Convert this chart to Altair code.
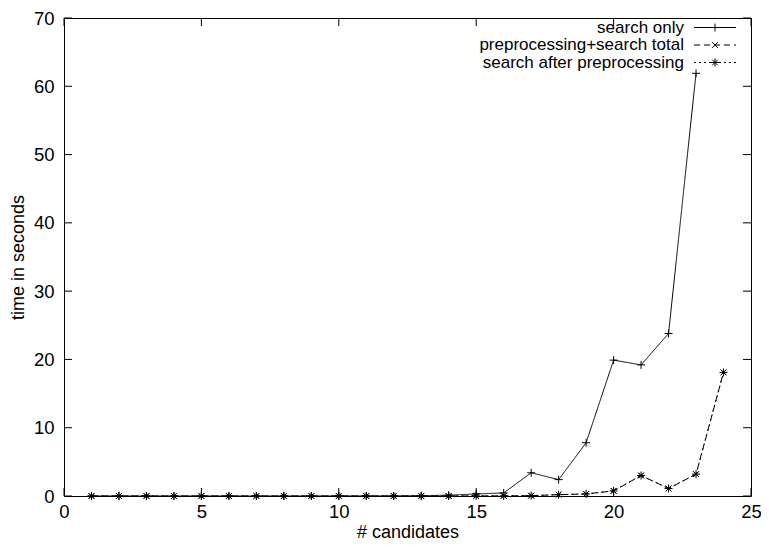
import altair as alt
import pandas as pd

# ---- data ----
n_search = list(range(1, 24))
search_only = [0.0, 0.0, 0.0, 0.0, 0.0, 0.0, 0.0, 0.0, 0.0, 0.01, 0.01, 0.02,
               0.05, 0.12, 0.3, 0.45, 3.4, 2.4, 7.8, 19.9, 19.2, 23.8, 61.9]
n_prep = list(range(1, 25))
prep_total = [0.0, 0.0, 0.0, 0.0, 0.0, 0.0, 0.0, 0.0, 0.0, 0.0, 0.0, 0.0,
              0.0, 0.0, 0.01, 0.02, 0.05, 0.2, 0.3, 0.75, 3.0, 1.1, 3.2, 18.1]
after_prep = [0.0, 0.0, 0.0, 0.0, 0.0, 0.0, 0.0, 0.0, 0.0, 0.0, 0.0, 0.0,
              0.0, 0.0, 0.01, 0.02, 0.05, 0.2, 0.3, 0.75, 3.0, 1.1, 3.2, 18.1]
series_names = ["search only", "preprocessing+search total", "search after preprocessing"]
x_ticks = [0, 5, 10, 15, 20, 25]
y_ticks = [0, 10, 20, 30, 40, 50, 60, 70]

# ---- layout / style ----
W, H = 687, 478
PAD = {"left": 56, "top": 10, "right": 10, "bottom": 44}
FONT = "Liberation Sans"
PLUS = "M-1,0L1,0M0,-1L0,1"
CROSS = "M-0.7,-0.7L0.7,0.7M-0.7,0.7L0.7,-0.7"
STAR = PLUS + CROSS
styles = [
    dict(dash=[1, 0], shape=PLUS, size=64),
    dict(dash=[6, 4], shape=CROSS, size=64),
    dict(dash=[2, 3], shape=STAR, size=64),
]

xs = alt.Scale(domain=[0, 25], nice=False, zero=False)
ys = alt.Scale(domain=[0, 70], nice=False, zero=False)
x_axis = alt.Axis(values=x_ticks, title="# candidates", domain=False, ticks=False,
                  grid=False, labelFlush=False, labelOverlap=False, labelPadding=6,
                  titleY=41, titleBaseline="alphabetic",
                  labelFont=FONT, titleFont=FONT, labelFontSize=18.5,
                  titleFontSize=18, titleFontWeight="normal", labelColor="black",
                  titleColor="black")
y_axis = alt.Axis(values=y_ticks, title="time in seconds", domain=False, ticks=False,
                  grid=False, labelFlush=False, labelOverlap=False, labelPadding=10,
                  titlePadding=6, labelFont=FONT, titleFont=FONT, labelFontSize=18.5,
                  titleFontSize=18, titleFontWeight="normal", labelColor="black",
                  titleColor="black")

frames = [
    pd.DataFrame({"n": n_search, "t": search_only}),
    pd.DataFrame({"n": n_prep, "t": prep_total}),
    pd.DataFrame({"n": n_prep, "t": after_prep}),
]

layers = []
for i, (df, st) in enumerate(zip(frames, styles)):
    base = alt.Chart(df).encode(
        x=alt.X("n:Q", scale=xs, axis=x_axis),
        y=alt.Y("t:Q", scale=ys, axis=y_axis),
    )
    layers.append(base.mark_line(color="black", strokeWidth=1, strokeDash=st["dash"]))
    layers.append(base.mark_point(shape=st["shape"], size=st["size"], filled=False,
                                  color="black", strokeWidth=1, opacity=1))

# inward tick marks on all four sides
xt = pd.DataFrame({"n": x_ticks})
yt = pd.DataFrame({"t": y_ticks})
TL = 8
for y0, y1 in [(H, H - TL), (0, TL)]:
    layers.append(alt.Chart(xt).mark_rule(color="black", strokeWidth=1).encode(
        x=alt.X("n:Q", scale=xs, axis=x_axis), y=alt.value(y0), y2=alt.value(y1)))
for x0, x1 in [(0, TL), (W, W - TL)]:
    layers.append(alt.Chart(yt).mark_rule(color="black", strokeWidth=1).encode(
        y=alt.Y("t:Q", scale=ys, axis=y_axis), x=alt.value(x0), x2=alt.value(x1)))

# key (top right, inside the plot)
key_rows = [9.5, 27, 44.5]
for name, st, ry in zip(series_names, styles, key_rows):
    kd = pd.DataFrame({"label": [name]})
    kc = alt.Chart(kd)
    layers.append(kc.mark_text(align="right", baseline="middle", font=FONT,
                               fontSize=17, color="black").encode(
        text="label:N", x=alt.value(W - 67), y=alt.value(ry)))
    layers.append(kc.mark_rule(color="black", strokeWidth=1, strokeDash=st["dash"]).encode(
        x=alt.value(W - 57), x2=alt.value(W - 15), y=alt.value(ry)))
    layers.append(kc.mark_point(shape=st["shape"], size=st["size"], filled=False,
                                color="black", strokeWidth=1, opacity=1).encode(
        x=alt.value(W - 36), y=alt.value(ry)))

chart = alt.layer(*layers).properties(
    width=W, height=H,
    background="white",
    autosize=alt.AutoSizeParams(type="none"),
    padding=PAD,
).configure_view(stroke="black", strokeWidth=1)

chart.save("out.html", embed_options={"renderer": "svg", "actions": False})
